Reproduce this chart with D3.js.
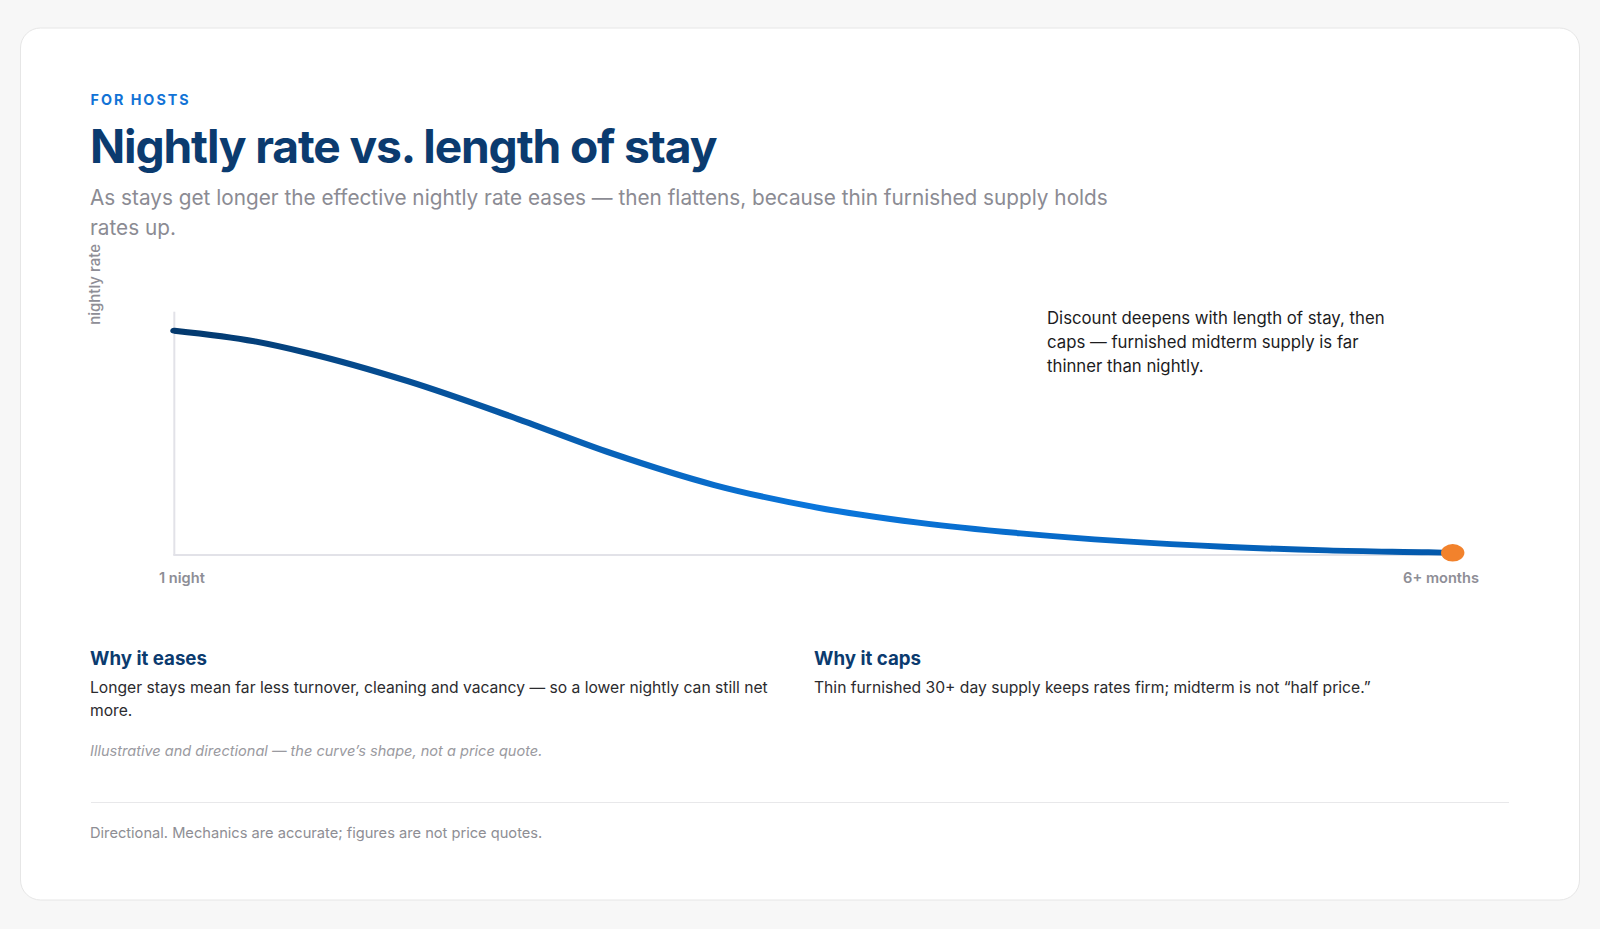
<!DOCTYPE html>
<html><head><meta charset="utf-8">
<script src="https://cdn.jsdelivr.net/npm/d3@7"></script>
<style>
html,body{margin:0;padding:0;background:#f7f7f7;}
svg{display:block;font-family:Inter,"Noto Sans",sans-serif;}
</style></head>
<body><svg id="c" width="1600" height="929"></svg>
<script>
// ---- data ----
const stayPosition = [0, 6.3, 10.3, 18.3, 26.3, 34.2, 42.2, 50.2, 58.2, 66.2, 74.1, 82.1, 90.2, 98.1, 100];
const rateIndex    = [92.2, 87.8, 83.2, 71.4, 57.0, 41.8, 28.8, 19.6, 13.3, 8.9, 5.7, 3.4, 1.9, 1.1, 0.9];
const xTickLabels  = ["1 night", "6+ months"];
const yAxisLabel   = "nightly rate";
const eyebrow      = "FOR HOSTS";
const titleText    = "Nightly rate vs. length of stay";
const subtitleLines = ["As stays get longer the effective nightly rate eases \u2014 then flattens, because thin furnished supply holds", "rates up."];
const annotationLines = ["Discount deepens with length of stay, then", "caps \u2014 furnished midterm supply is far", "thinner than nightly."];
const notes = [
  {head: "Why it eases", lines: ["Longer stays mean far less turnover, cleaning and vacancy \u2014 so a lower nightly can still net", "more."]},
  {head: "Why it caps", lines: ["Thin furnished 30+ day supply keeps rates firm; midterm is not \u201chalf price.\u201d"]}
];
const caveat = "Illustrative and directional \u2014 the curve\u2019s shape, not a price quote.";
const footer = "Directional. Mechanics are accurate; figures are not price quotes.";

const data = stayPosition.map((x, i) => ({x, y: rateIndex[i]}));

const svg = d3.select("#c");
const NAVY = "#0b3b6f";

// card
svg.append("rect").attr("x", 20.5).attr("y", 28).attr("width", 1559).attr("height", 872)
  .attr("rx", 20).attr("fill", "#fff").attr("stroke", "#e6e6e6");

const L = 91;
svg.append("text").attr("x", L - 0.5).attr("y", 105).text(eyebrow)
  .attr("font-size", 14.3).attr("font-weight", 700).attr("letter-spacing", "2px").attr("fill", "#1273d6");
svg.append("text").attr("x", L - 1).attr("y", 163).text(titleText)
  .attr("font-size", 46.2).attr("font-weight", 700).attr("letter-spacing", "-1.15px").attr("fill", NAVY);
svg.append("g").selectAll("text").data(subtitleLines).join("text")
  .attr("x", L - 1).attr("y", (d, i) => 205 + i * 30).text(d => d)
  .attr("font-size", 20.75).attr("fill", "#8b8b93");

// ---- chart ----
const px0 = 174.3, px1 = 1452.7, pyBase = 555, pyTop = 311.7;
const sx = 1.95, sy = 1.45; // non-uniform stretch of the drawing
const x = d3.scaleLinear().domain([0, 100]).range([px0, px1]);
const y = d3.scaleLinear().domain([0, 100]).range([pyBase, pyTop]);

// axes
svg.append("line").attr("x1", px0).attr("x2", px0).attr("y1", pyTop).attr("y2", pyBase)
  .attr("stroke", "#e2e2e8").attr("stroke-width", 2);
svg.append("line").attr("x1", px0 - 1).attr("x2", px1).attr("y1", pyBase).attr("y2", pyBase)
  .attr("stroke", "#e2e2e8").attr("stroke-width", 2);

const defs = svg.append("defs");
const grad = defs.append("linearGradient").attr("id", "lg").attr("gradientUnits", "userSpaceOnUse")
  .attr("x1", px0 / sx).attr("x2", px1 / sx).attr("y1", 0).attr("y2", 0);
grad.append("stop").attr("offset", "0%").attr("stop-color", "#03386c");
grad.append("stop").attr("offset", "50%").attr("stop-color", "#0a76dc");
grad.append("stop").attr("offset", "100%").attr("stop-color", "#0358aa");

const g = svg.append("g").attr("transform", `scale(${sx},${sy})`);
const line = d3.line().x(d => x(d.x) / sx).y(d => y(d.y) / sy).curve(d3.curveMonotoneX);
g.append("path").datum(data).attr("d", line).attr("fill", "none")
  .attr("stroke", "url(#lg)").attr("stroke-width", 4.1).attr("stroke-linecap", "round");
const last = data[data.length - 1];
g.append("circle").attr("cx", x(last.x) / sx).attr("cy", y(last.y) / sy).attr("r", 6).attr("fill", "#f2822c");

// y label
svg.append("text").attr("transform", `translate(100,244) rotate(-90)`).attr("text-anchor", "end")
  .text(yAxisLabel).attr("font-size", 15).attr("font-weight", 500).attr("fill", "#8e8e96");

// x tick labels
svg.append("text").attr("x", 159).attr("y", 583).text(xTickLabels[0])
  .attr("font-size", 14.6).attr("font-weight", 600).attr("fill", "#8e8e96");
svg.append("text").attr("x", 1479).attr("y", 583).attr("text-anchor", "end").text(xTickLabels[1])
  .attr("font-size", 14.6).attr("font-weight", 600).attr("fill", "#8e8e96");

// annotation
svg.append("g").selectAll("text").data(annotationLines).join("text")
  .attr("x", 1047).attr("y", (d, i) => 323.5 + i * 24).text(d => d)
  .attr("font-size", 16.75).attr("fill", "#1c1c1e");

// notes
const colX = [L, 815];
notes.forEach((n, k) => {
  svg.append("text").attr("x", colX[k] - 1).attr("y", 664.5).text(n.head)
    .attr("font-size", 18.7).attr("font-weight", 700).attr("fill", NAVY);
  n.lines.forEach((t, i) => {
    svg.append("text").attr("x", colX[k] - 1).attr("y", 692.5 + i * 23).text(t)
      .attr("font-size", 15.65).attr("fill", "#2b2b2e");
  });
});
svg.append("text").attr("x", L - 1).attr("y", 756).text(caveat)
  .attr("font-size", 14.55).attr("font-style", "italic").attr("fill", "#9a9aa0");
svg.append("line").attr("x1", L).attr("x2", 1509).attr("y1", 802.5).attr("y2", 802.5)
  .attr("stroke", "#e8e8ea").attr("stroke-width", 1);
svg.append("text").attr("x", L - 1).attr("y", 838).text(footer)
  .attr("font-size", 14.65).attr("fill", "#8e8e94");
</script></body></html>
